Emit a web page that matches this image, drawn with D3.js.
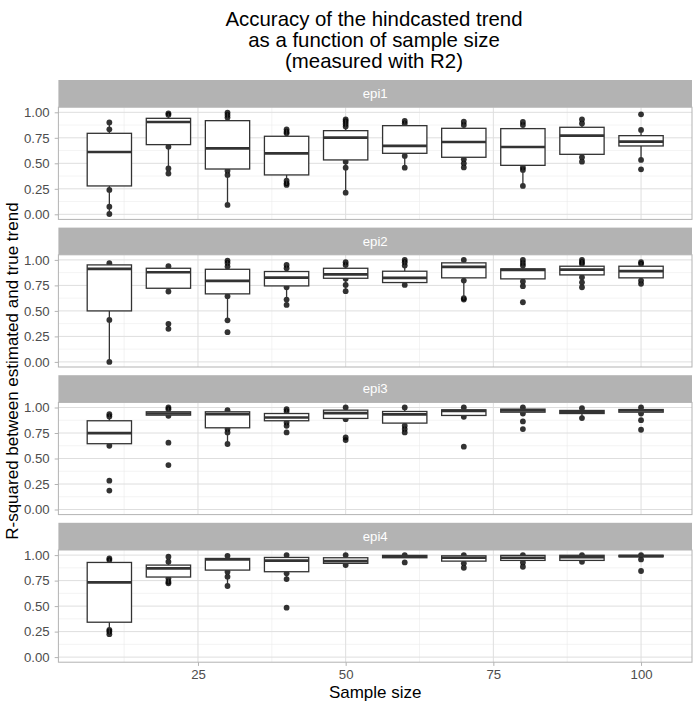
<!DOCTYPE html>
<html>
<head>
<meta charset="utf-8">
<script src="https://cdn.jsdelivr.net/npm/d3@7"></script>
<style>
  html, body { margin: 0; padding: 0; background: #fff; }
  svg { display: block; font-family: "Liberation Sans", Arial, Helvetica, sans-serif; }
</style>
</head>
<body>
<svg id="chart" width="695" height="711"></svg>
<script>
// ---------------- DATA ----------------
const sampleSizes = [10, 20, 30, 40, 50, 60, 70, 80, 90, 100];
const facetNames = ["epi1", "epi2", "epi3", "epi4"];
const xTicks = [25, 50, 75, 100];
const yTicks = [0, 0.25, 0.5, 0.75, 1];
const yTickLabels = ["0.00", "0.25", "0.50", "0.75", "1.00"];
const titleLines = ["Accuracy of the hindcasted trend", "as a function of sample size", "(measured with R2)"];
const xTitle = "Sample size";
const yTitle = "R-squared between estimated and true trend";

// quartiles per sample size: [q1, median, q3]
const epi1Box = [[0.278,0.611,0.794],[0.683,0.905,0.941],[0.444,0.647,0.918],[0.386,0.598,0.765],[0.533,0.752,0.820],
                 [0.598,0.670,0.869],[0.559,0.709,0.843],[0.480,0.660,0.840],[0.588,0.771,0.853],[0.670,0.712,0.771]];
const epi2Box = [[0.500,0.912,0.951],[0.722,0.879,0.918],[0.667,0.794,0.908],[0.745,0.827,0.886],[0.820,0.859,0.918],
                 [0.778,0.824,0.889],[0.824,0.931,0.971],[0.814,0.902,0.912],[0.853,0.905,0.938],[0.824,0.889,0.938]];
const epi3Box = [[0.645,0.749,0.870],[0.925,0.941,0.958],[0.801,0.935,0.958],[0.870,0.902,0.941],[0.893,0.945,0.974],
                 [0.847,0.932,0.961],[0.922,0.967,0.977],[0.954,0.971,0.984],[0.941,0.958,0.971],[0.954,0.971,0.980]];
const epi4Box = [[0.342,0.733,0.928],[0.785,0.870,0.902],[0.853,0.958,0.967],[0.837,0.945,0.977],[0.919,0.941,0.974],
                 [0.974,0.984,0.997],[0.941,0.974,0.993],[0.948,0.974,0.997],[0.948,0.980,0.998],[0.984,0.990,0.998]];

// observations visible outside the boxes
const epi1Points = [[0.90,0.833,0.239,0.075,0.003],[0.99,0.975,0.663,0.45,0.40],[0.997,0.974,0.948,0.428,0.386,0.092],
                    [0.833,0.81,0.794,0.33,0.304,0.288],[0.93,0.91,0.886,0.86,0.516,0.457,0.212],[0.915,0.89,0.572,0.457],
                    [0.908,0.876,0.539,0.50,0.46],[0.905,0.876,0.46,0.435,0.278],[0.93,0.89,0.56,0.516],[0.98,0.827,0.533,0.441]];
const epi2Points = [[0.967,0.412,0.0],[0.938,0.69,0.373,0.324],[0.993,0.97,0.935,0.644,0.408,0.291],[0.951,0.918,0.732,0.611,0.559],
                    [0.977,0.951,0.814,0.755,0.693],[1.0,0.977,0.944,0.755],[1.0,0.797,0.624,0.611],[1.0,0.97,0.944,0.788,0.742,0.585],
                    [1.0,0.977,0.96,0.83,0.78,0.732],[0.977,0.96,0.797,0.765]];
const epi3Points = [[0.935,0.912,0.625,0.283,0.186],[1.0,0.984,0.919,0.655,0.436],[0.974,0.788,0.756,0.642],[0.984,0.961,0.853,0.821,0.756],
                    [1.0,0.886,0.707,0.681],[1.0,0.821,0.788,0.756],[1.0,0.909,0.616],[1.0,0.941,0.863,0.788],[0.993,0.896],
                    [1.0,0.941,0.876,0.782]];
const epi4Points = [[0.967,0.951,0.267,0.251,0.225],[0.984,0.935,0.772,0.739,0.723],[0.993,0.837,0.788,0.697],[1.0,0.821,0.765,0.485],
                    [1.0,0.902],[1.0,0.928],[1.0,0.919,0.876],[1.0,0.928,0.886],[1.0,0.935],[1.0,0.958,0.844]];

const boxData = [epi1Box, epi2Box, epi3Box, epi4Box];
const pointData = [epi1Points, epi2Points, epi3Points, epi4Points];
const boxWidth = 7.5;

// ---------------- LAYOUT ----------------
const svg = d3.select("#chart");
const left = 58.4, right = 692;
const firstStripTop = 80, stripH = 27.2, panelH = 112.2, gap = 8.2;
const step = stripH + panelH + gap;
const tickFont = 13.2, titleFont = 20.4, axisTitleFont = 17;

const x = d3.scaleLinear().domain([1.375, 108.625]).range([left, right]);
const xMinor = [12.5, 37.5, 62.5, 87.5];
const yMinor = [0.125, 0.375, 0.625, 0.875];

// title
const title = svg.append("g");
titleLines.forEach((t, i) => {
  title.append("text").attr("x", 374).attr("y", 26 + i * 20.8)
    .attr("text-anchor", "middle").attr("font-size", titleFont).attr("fill", "#000").text(t);
});

facetNames.forEach((name, fi) => {
  const stripTop = firstStripTop + fi * step;
  const pTop = stripTop + stripH;
  const pBot = pTop + panelH;
  const y = d3.scaleLinear().domain([-0.05, 1.05]).range([pBot, pTop]);
  const g = svg.append("g");

  // strip
  g.append("rect").attr("x", left).attr("y", stripTop).attr("width", right - left).attr("height", stripH)
    .attr("fill", "#B3B3B3");
  g.append("text").attr("x", (left + right) / 2).attr("y", stripTop + stripH / 2)
    .attr("dy", "0.35em").attr("text-anchor", "middle").attr("font-size", tickFont).attr("fill", "#fff").text(name);

  // grid
  g.selectAll(".ymin").data(yMinor).join("line")
    .attr("x1", left).attr("x2", right).attr("y1", d => y(d)).attr("y2", d => y(d))
    .attr("stroke", "#EBEBEB").attr("stroke-width", 0.6);
  g.selectAll(".xmin").data(xMinor).join("line")
    .attr("y1", pTop).attr("y2", pBot).attr("x1", d => x(d)).attr("x2", d => x(d))
    .attr("stroke", "#EBEBEB").attr("stroke-width", 0.6);
  g.selectAll(".ymaj").data(yTicks).join("line")
    .attr("x1", left).attr("x2", right).attr("y1", d => y(d)).attr("y2", d => y(d))
    .attr("stroke", "#DEDEDE").attr("stroke-width", 1);
  g.selectAll(".xmaj").data(xTicks).join("line")
    .attr("y1", pTop).attr("y2", pBot).attr("x1", d => x(d)).attr("x2", d => x(d))
    .attr("stroke", "#DEDEDE").attr("stroke-width", 1);

  // y axis
  const yAxis = d3.axisLeft(y).tickValues(yTicks).tickSize(3.7).tickPadding(5)
    .tickFormat((d, i) => yTickLabels[i]);
  const ya = g.append("g").attr("transform", `translate(${left},0)`).call(yAxis);
  ya.attr("font-size", tickFont).attr("font-family", null);
  ya.select(".domain").remove();
  ya.selectAll(".tick line").attr("stroke", "#B3B3B3");
  ya.selectAll(".tick text").attr("font-size", tickFont).attr("fill", "#4D4D4D");

  // points (drawn first, boxes over them)
  const pts = [];
  pointData[fi].forEach((arr, si) => arr.forEach(v => pts.push({ s: sampleSizes[si], v })));
  g.append("g").selectAll("circle").data(pts).join("circle")
    .attr("cx", d => x(d.s)).attr("cy", d => y(d.v)).attr("r", 2.9)
    .attr("fill", "#000").attr("fill-opacity", 0.8);

  // boxes
  const boxes = boxData[fi].map((b, si) => {
    const [q1, med, q3] = b;
    const iqr = q3 - q1;
    const vals = pointData[fi][si];
    const hiIn = vals.filter(v => v >= q3 && v <= q3 + 1.5 * iqr);
    const loIn = vals.filter(v => v <= q1 && v >= q1 - 1.5 * iqr);
    return { s: sampleSizes[si], q1, med, q3,
      hi: hiIn.length ? d3.max(hiIn) : q3, lo: loIn.length ? d3.min(loIn) : q1 };
  });
  const bg = g.append("g");
  bg.selectAll(".wh").data(boxes).join("line")
    .attr("x1", d => x(d.s)).attr("x2", d => x(d.s)).attr("y1", d => y(d.q3)).attr("y2", d => y(d.hi))
    .attr("stroke", "#333").attr("stroke-width", 1.3);
  bg.selectAll(".wl").data(boxes).join("line")
    .attr("x1", d => x(d.s)).attr("x2", d => x(d.s)).attr("y1", d => y(d.q1)).attr("y2", d => y(d.lo))
    .attr("stroke", "#333").attr("stroke-width", 1.3);
  bg.selectAll("rect").data(boxes).join("rect")
    .attr("x", d => x(d.s - boxWidth / 2)).attr("width", d => x(d.s + boxWidth / 2) - x(d.s - boxWidth / 2))
    .attr("y", d => y(d.q3)).attr("height", d => Math.max(0.5, y(d.q1) - y(d.q3)))
    .attr("fill", "#fff").attr("stroke", "#333").attr("stroke-width", 1.3);
  bg.selectAll(".med").data(boxes).join("line")
    .attr("x1", d => x(d.s - boxWidth / 2)).attr("x2", d => x(d.s + boxWidth / 2))
    .attr("y1", d => y(d.med)).attr("y2", d => y(d.med))
    .attr("stroke", "#333").attr("stroke-width", 2.7);

  // panel border
  g.append("rect").attr("x", left).attr("y", pTop).attr("width", right - left).attr("height", panelH)
    .attr("fill", "none").attr("stroke", "#B3B3B3").attr("stroke-width", 1);

  // x axis on last facet
  if (fi === facetNames.length - 1) {
    const xAxis = d3.axisBottom(x).tickValues(xTicks).tickSize(3.7).tickPadding(3.5).tickFormat(d3.format("d"));
    const xa = g.append("g").attr("transform", `translate(0,${pBot})`).call(xAxis);
    xa.attr("font-size", tickFont).attr("font-family", null);
    xa.select(".domain").remove();
    xa.selectAll(".tick line").attr("stroke", "#B3B3B3");
    xa.selectAll(".tick text").attr("font-size", tickFont).attr("fill", "#4D4D4D");
  }
});

// axis titles
svg.append("text").attr("x", (left + right) / 2).attr("y", 697.5).attr("text-anchor", "middle")
  .attr("font-size", axisTitleFont).attr("fill", "#000").text(xTitle);
const lastBottom = firstStripTop + 3 * step + stripH + panelH;
svg.append("text").attr("transform", `translate(18,${(firstStripTop + lastBottom) / 2}) rotate(-90)`)
  .attr("text-anchor", "middle").attr("font-size", axisTitleFont).attr("fill", "#000").text(yTitle);
</script>
</body>
</html>
